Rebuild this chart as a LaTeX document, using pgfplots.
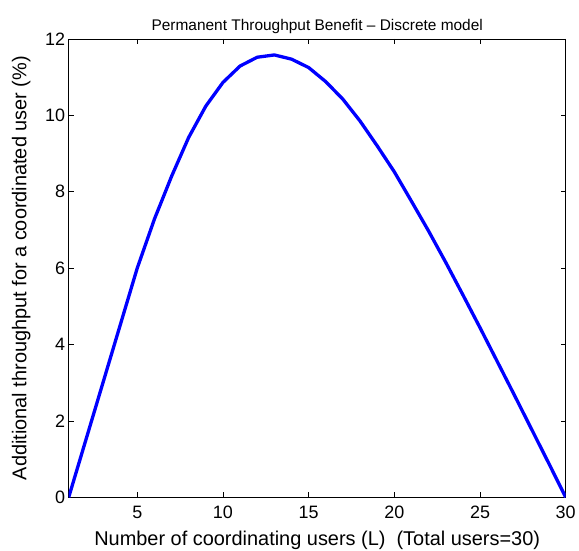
\documentclass[border=0pt]{standalone}
\usepackage{fontspec}
\setmainfont{Liberation Sans}
\usepackage{pgfplots}
\pgfplotsset{compat=1.18}
\begin{document}
\begin{tikzpicture}
\begin{axis}[
  at={(0,0)}, anchor=south west,
  width=497bp, height=458.4bp, scale only axis,
  xmin=1, xmax=30, ymin=0, ymax=12,
  xtick={5,10,15,20,25,30},
  ytick={0,2,4,6,8,10,12},
  tick align=inside,
  major tick length=5bp,
  tick style={black, line width=0.5bp},
  axis line style={black, line width=0.6bp},
  /pgf/number format/assume math mode=true,
  ticklabel style={font=\fontsize{18}{20}\selectfont},
  label style={font=\fontsize{20}{22}\selectfont},
  title style={font=\fontsize{15.5}{18}\selectfont},
  title={Permanent Throughput Benefit -- Discrete model},
  xlabel={Number of coordinating users (L)\ \ (Total users=30)},
  ylabel={Additional throughput for a coordinated user (\%)},
  xticklabel style={yshift=-5bp},
  xlabel style={yshift=-6bp},
  ylabel style={yshift=8bp},
  title style={yshift=-4bp},
]
\addplot[color={rgb,255:red,0;green,0;blue,255}, line width=3.3bp, line join=round] coordinates {
(1,0) (2,1.5) (3,3.0) (4,4.5) (5,6.0) (6,7.28) (7,8.4) (8,9.42) (9,10.24) (10,10.86)
(11,11.29) (12,11.52) (13,11.58) (14,11.47) (15,11.25) (16,10.88) (17,10.42) (18,9.85)
(19,9.2) (20,8.52) (21,7.75) (22,6.97) (23,6.15) (24,5.3) (25,4.44) (26,3.56)
(27,2.68) (28,1.79) (29,0.9) (30,0)
};
\end{axis}
\pgfresetboundingbox
\path (-68.7bp,-53.7bp) rectangle (510.3bp,497.3bp);
\end{tikzpicture}
\end{document}
